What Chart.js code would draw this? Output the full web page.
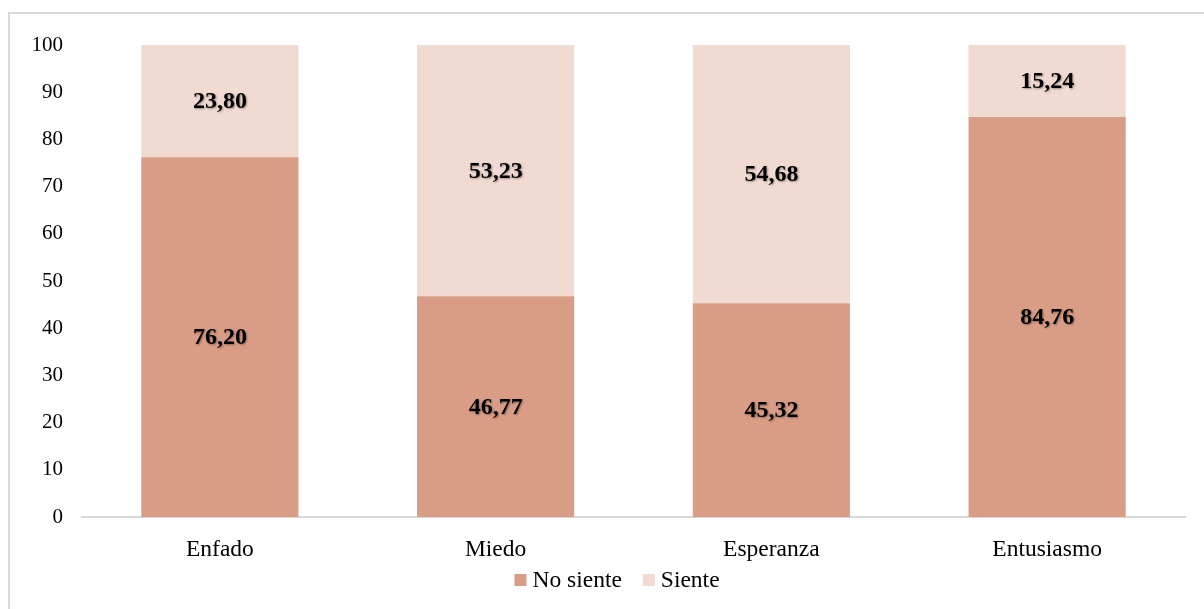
<!DOCTYPE html>
<html>
<head>
<meta charset="utf-8">
<script src="https://cdn.jsdelivr.net/npm/chart.js@4/dist/chart.umd.min.js"></script>
<style>
    body { margin: 0; background: #fff; overflow: hidden; }
    #wrap { position: absolute; left: 0; top: 0; width: 1204px; height: 609px; }
    #frame { position: absolute; left: 8px; top: 12px; width: 1300px; height: 700px; border: 2px solid #d9d9d9; box-sizing: border-box; }
    canvas { position: absolute; left: 0; top: 0; }
</style>
</head>
<body>
<div id="wrap">
    <div id="frame"></div>
    <canvas id="chart" width="1204" height="609"></canvas>
</div>
<script>
const categories = ['Enfado', 'Miedo', 'Esperanza', 'Entusiasmo'];
const noSiente = [76.20, 46.77, 45.32, 84.76];
const siente = [23.80, 53.23, 54.68, 15.24];

const serif = '"Liberation Serif", "Times New Roman", serif';

// Draw the value of each segment centred in it
const barLabels = {
    id: 'barLabels',
    afterDatasetsDraw(chart) {
        const ctx = chart.ctx;
        ctx.save();
        ctx.font = 'bold 24px ' + serif;
        ctx.fillStyle = '#000';
        ctx.textAlign = 'center';
        ctx.textBaseline = 'middle';
        ctx.shadowColor = 'rgba(0,0,0,0.35)';
        ctx.shadowOffsetX = 1;
        ctx.shadowOffsetY = 1;
        ctx.shadowBlur = 2;
        chart.data.datasets.forEach((ds, i) => {
            chart.getDatasetMeta(i).data.forEach((bar, j) => {
                const { x, y, base } = bar.getProps(['x', 'y', 'base'], true);
                const text = ds.data[j].toFixed(2).replace('.', ',');
                ctx.fillText(text, x, (y + base) / 2 + 1);
            });
        });
        ctx.restore();
    }
};

// Excel-like legend: small square, short gap, label
const bottomLegend = {
    id: 'bottomLegend',
    afterDraw(chart) {
        const ctx = chart.ctx;
        const box = 12, gap = 6, between = 21, y = 580;
        ctx.save();
        ctx.font = '23.5px ' + serif;
        ctx.textBaseline = 'middle';
        ctx.textAlign = 'left';
        const items = chart.data.datasets.map(ds => ({ text: ds.label, color: ds.backgroundColor }));
        const total = items.reduce((s, it) => s + box + gap + ctx.measureText(it.text).width, 0) + between * (items.length - 1);
        let x = 617 - total / 2;
        items.forEach(it => {
            ctx.fillStyle = it.color;
            ctx.fillRect(x, y - box / 2, box, box);
            x += box + gap;
            ctx.fillStyle = '#000';
            ctx.fillText(it.text, x, y + 1);
            x += ctx.measureText(it.text).width + between;
        });
        ctx.restore();
    }
};

new Chart(document.getElementById('chart').getContext('2d'), {
    type: 'bar',
    data: {
        labels: categories,
        datasets: [
            {
                label: 'No siente',
                data: noSiente,
                backgroundColor: '#d99d85',
                borderWidth: 0,
                categoryPercentage: 1,
                barPercentage: 0.57
            },
            {
                label: 'Siente',
                data: siente,
                backgroundColor: '#f1dad1',
                borderWidth: 0,
                categoryPercentage: 1,
                barPercentage: 0.57
            }
        ]
    },
    options: {
        responsive: false,
        animation: false,
        layout: {
            padding: { top: 45, right: 19, bottom: 34, left: 0 }
        },
        scales: {
            x: {
                stacked: true,
                grid: { display: false },
                border: { display: true, color: '#d9d9d9', width: 2 },
                ticks: { color: '#000', font: { family: serif, size: 23.5, lineHeight: 1.1 }, padding: 12 }
            },
            y: {
                stacked: true,
                min: 0,
                max: 100,
                grid: { display: false },
                border: { display: false },
                ticks: { stepSize: 10, color: '#000', font: { family: serif, size: 21 }, padding: 11 },
                afterFit(scale) { scale.width = 82; }
            }
        },
        plugins: {
            legend: { display: false },
            tooltip: { enabled: false }
        }
    },
    plugins: [barLabels, bottomLegend]
});
</script>
</body>
</html>
